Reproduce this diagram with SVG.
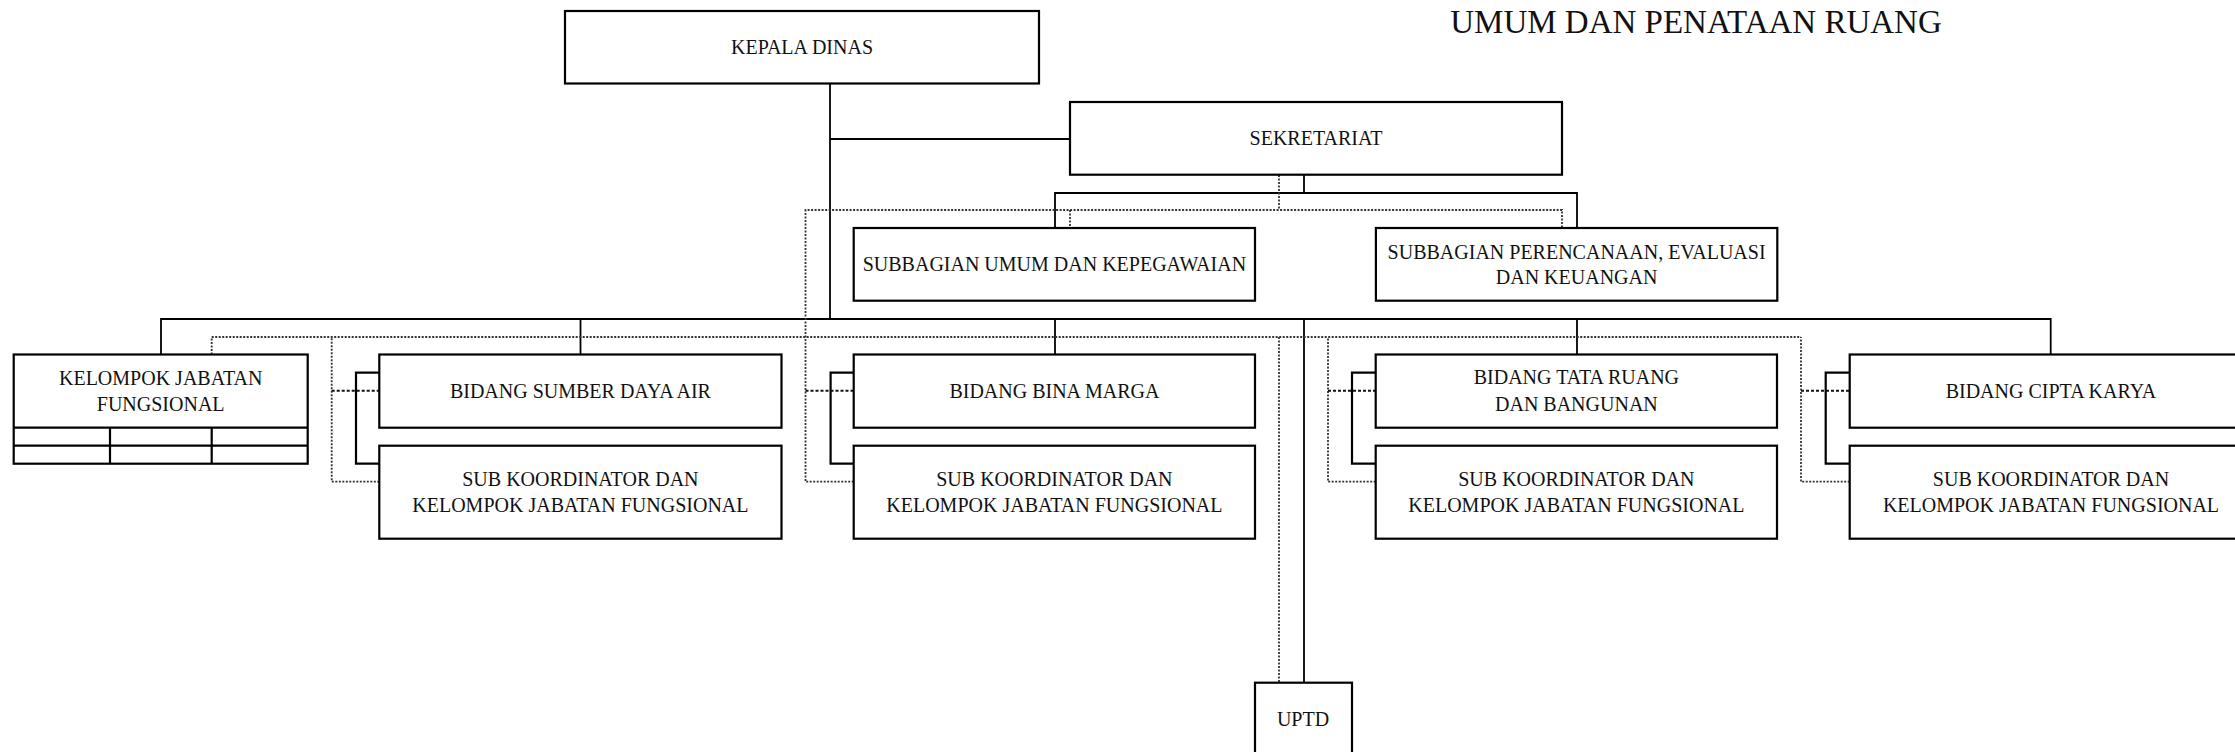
<svg xmlns="http://www.w3.org/2000/svg" width="2235" height="752" viewBox="0 0 2235 752">
<style>
  .box { fill: #fff; stroke: #000; stroke-width: 2.2; }
  .ln { fill: none; stroke: #000; stroke-width: 1.8; }
  .br { fill: none; stroke: #000; stroke-width: 2.2; }
  .dot { fill: none; stroke: #333; stroke-width: 1.8; stroke-dasharray: 2 1.5; }
  .dot2 { fill: none; stroke: #111; stroke-width: 2; stroke-dasharray: 3 2; }
  .t { font-family: "Liberation Serif", "Times New Roman", serif; font-size: 20px; fill: #111; text-anchor: middle; }
  .title { font-family: "Liberation Serif", "Times New Roman", serif; font-size: 33px; fill: #111; text-anchor: middle; }
</style>
<rect width="2235" height="752" fill="#fff"/>
<text class="title" x="1696" y="33">UMUM DAN PENATAAN RUANG</text>

<g id="connectors">
  <!-- solid hierarchy -->
  <path class="ln" d="M830 83 V319"/>
  <path class="ln" d="M830 139 H1070"/>
  <path class="ln" d="M1304 175 V193"/>
  <path class="ln" d="M1055 228 V193 H1577 V228"/>
  <path class="ln" d="M161 354.5 V319 H2050.7 V354.5"/>
  <path class="ln" d="M580.5 319 V354.5"/>
  <path class="ln" d="M1055 319 V354.5"/>
  <path class="ln" d="M1577 319 V354.5"/>
  <path class="ln" d="M1304 319 V682.7"/>
  <!-- brackets between bidang and sub koordinator -->
  <path class="br" d="M379.3 372.7 H356 V463.7 H379.3"/>
  <path class="br" d="M853.7 372.7 H830.6 V463.7 H853.7"/>
  <path class="br" d="M1375.7 372.7 H1352 V463.7 H1375.7"/>
  <path class="br" d="M1849.7 372.7 H1825.7 V463.7 H1849.7"/>
  <!-- dotted coordination lines -->
  <path class="dot" d="M1279 175 V210"/>
  <path class="dot" d="M853.7 481.7 H805.5 V210 H1562 V228"/>
  <path class="dot" d="M1070 210 V228"/>
  <path class="dot" d="M211.7 354.5 V337 H1801"/>
  <path class="dot" d="M379.3 481.7 H331.7 V337"/>
  <path class="dot" d="M1279 337 V682.7"/>
  <path class="dot" d="M1375.7 481.7 H1328 V337"/>
  <path class="dot" d="M1849.7 481.7 H1801 V337"/>
  <path class="dot2" d="M331.7 390.7 H379.3"/>
  <path class="dot2" d="M805.5 390.7 H853.7"/>
  <path class="dot2" d="M1328 390.7 H1375.7"/>
  <path class="dot2" d="M1801 390.7 H1849.7"/>
</g>

<g id="kepala-dinas">
  <rect class="box" x="565" y="11" width="474" height="72.5"/>
  <text class="t" x="802" y="54">KEPALA DINAS</text>
</g>
<g id="sekretariat">
  <rect class="box" x="1070" y="102" width="492" height="72.7"/>
  <text class="t" x="1316" y="145">SEKRETARIAT</text>
</g>
<g id="subbagian-umum">
  <rect class="box" x="853.7" y="228" width="401.3" height="72.7"/>
  <text class="t" x="1054.4" y="271">SUBBAGIAN UMUM DAN KEPEGAWAIAN</text>
</g>
<g id="subbagian-perencanaan">
  <rect class="box" x="1375.9" y="228" width="401.4" height="72.7"/>
  <text class="t" x="1576.6" y="259">SUBBAGIAN PERENCANAAN, EVALUASI</text>
  <text class="t" x="1576.6" y="283.5">DAN KEUANGAN</text>
</g>
<g id="kelompok-jabatan-fungsional">
  <rect class="box" x="13.7" y="354.5" width="294" height="109.2"/>
  <path class="br" d="M13.7 427.7 H307.7 M13.7 445.7 H307.7 M110 427.7 V463.7 M211.7 427.7 V463.7"/>
  <text class="t" x="160.7" y="385">KELOMPOK JABATAN</text>
  <text class="t" x="160.7" y="411">FUNGSIONAL</text>
</g>
<g id="bidang-sda">
  <rect class="box" x="379.3" y="354.5" width="402.2" height="73.2"/>
  <text class="t" x="580.4" y="397.7">BIDANG SUMBER DAYA AIR</text>
</g>
<g id="subkoor-sda">
  <rect class="box" x="379.3" y="445.7" width="402.2" height="93"/>
  <text class="t" x="580.4" y="486">SUB KOORDINATOR DAN</text>
  <text class="t" x="580.4" y="511.7">KELOMPOK JABATAN FUNGSIONAL</text>
</g>
<g id="bidang-bina-marga">
  <rect class="box" x="853.7" y="354.5" width="401.3" height="73.2"/>
  <text class="t" x="1054.4" y="397.7">BIDANG BINA MARGA</text>
</g>
<g id="subkoor-bina-marga">
  <rect class="box" x="853.7" y="445.7" width="401.3" height="93"/>
  <text class="t" x="1054.4" y="486">SUB KOORDINATOR DAN</text>
  <text class="t" x="1054.4" y="511.7">KELOMPOK JABATAN FUNGSIONAL</text>
</g>
<g id="bidang-tata-ruang">
  <rect class="box" x="1375.7" y="354.5" width="401.3" height="73.2"/>
  <text class="t" x="1576.4" y="384.3">BIDANG TATA RUANG</text>
  <text class="t" x="1576.4" y="410.7">DAN BANGUNAN</text>
</g>
<g id="subkoor-tata-ruang">
  <rect class="box" x="1375.7" y="445.7" width="401.3" height="93"/>
  <text class="t" x="1576.4" y="486">SUB KOORDINATOR DAN</text>
  <text class="t" x="1576.4" y="511.7">KELOMPOK JABATAN FUNGSIONAL</text>
</g>
<g id="bidang-cipta-karya">
  <rect class="box" x="1849.7" y="354.5" width="402" height="73.2"/>
  <text class="t" x="2051" y="397.7">BIDANG CIPTA KARYA</text>
</g>
<g id="subkoor-cipta-karya">
  <rect class="box" x="1849.7" y="445.7" width="402" height="93"/>
  <text class="t" x="2051" y="486">SUB KOORDINATOR DAN</text>
  <text class="t" x="2051" y="511.7">KELOMPOK JABATAN FUNGSIONAL</text>
</g>
<g id="uptd">
  <rect class="box" x="1255" y="682.7" width="97" height="100"/>
  <text class="t" x="1303" y="726">UPTD</text>
</g>
</svg>
